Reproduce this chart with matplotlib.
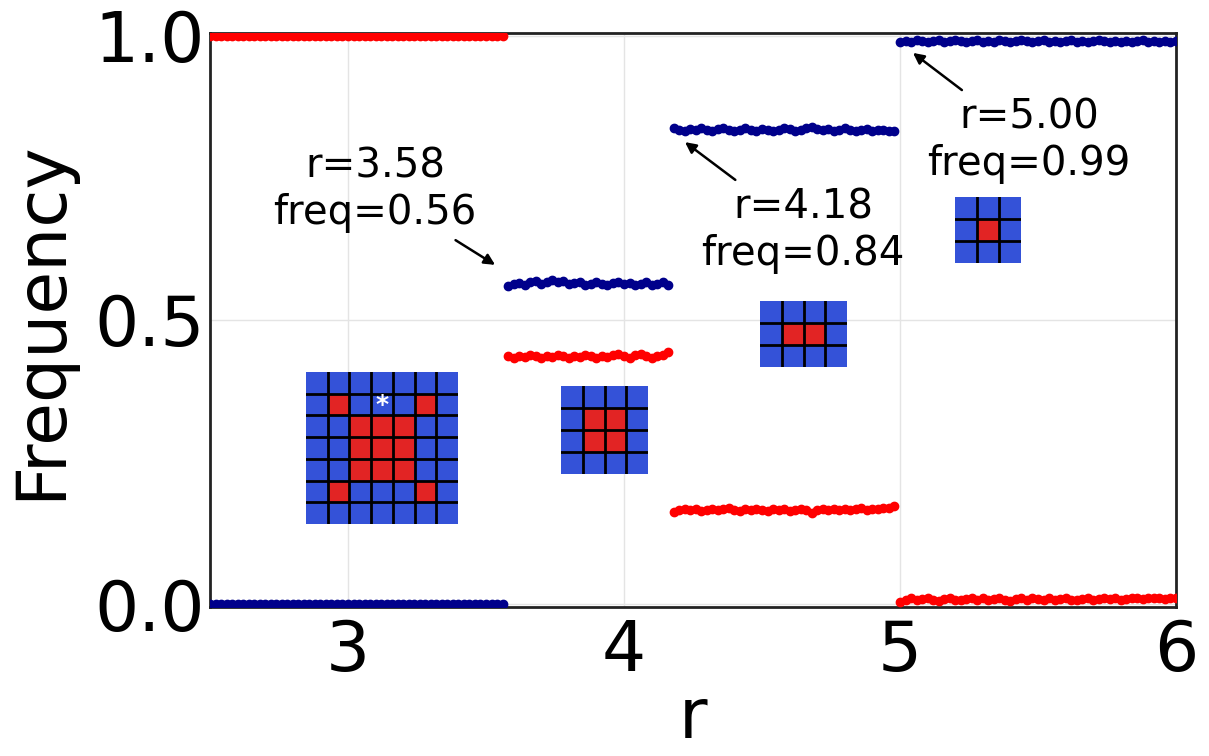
import numpy as np
import matplotlib
matplotlib.use("Agg")
import matplotlib.pyplot as plt
from matplotlib.colors import ListedColormap

# frequency of each strategy vs r, one block per plateau
n1 = 54
red1 = [1.0] * n1
blue1 = [0.0] * n1

blue2 = [0.560, 0.563, 0.565, 0.562, 0.566, 0.568, 0.564, 0.567, 0.570, 0.566,
         0.568, 0.563, 0.565, 0.567, 0.562, 0.564, 0.566, 0.563, 0.561, 0.565,
         0.567, 0.563, 0.565, 0.562, 0.564, 0.566, 0.561, 0.563, 0.567, 0.562]
red2 = [0.436, 0.434, 0.437, 0.435, 0.438, 0.436, 0.433, 0.437, 0.435, 0.439,
        0.436, 0.434, 0.437, 0.435, 0.438, 0.436, 0.433, 0.437, 0.435, 0.438,
        0.440, 0.436, 0.434, 0.438, 0.441, 0.437, 0.433, 0.437, 0.439, 0.443]

blue3 = [0.838, 0.835, 0.833, 0.836, 0.834, 0.837, 0.835, 0.832, 0.836, 0.838,
         0.835, 0.833, 0.834, 0.837, 0.835, 0.833, 0.836, 0.834, 0.832, 0.835,
         0.838, 0.836, 0.833, 0.835, 0.837, 0.839, 0.836, 0.834, 0.836, 0.833,
         0.835, 0.837, 0.834, 0.832, 0.835, 0.836, 0.833, 0.835, 0.834, 0.832,
         0.833]
red3 = [0.163, 0.166, 0.168, 0.165, 0.167, 0.164, 0.166, 0.168, 0.165, 0.167,
        0.169, 0.166, 0.164, 0.167, 0.165, 0.168, 0.166, 0.164, 0.167, 0.165,
        0.167, 0.164, 0.166, 0.168, 0.165, 0.161, 0.166, 0.168, 0.165, 0.167,
        0.166, 0.168, 0.165, 0.167, 0.169, 0.166, 0.168, 0.167, 0.169, 0.170,
        0.172]

blue4 = [0.990, 0.991, 0.990, 0.992, 0.991, 0.990, 0.991, 0.992, 0.990, 0.991,
         0.993, 0.991, 0.990, 0.991, 0.992, 0.990, 0.991, 0.990, 0.992, 0.991,
         0.990, 0.991, 0.993, 0.991, 0.990, 0.991, 0.992, 0.990, 0.991, 0.990,
         0.991, 0.992, 0.990, 0.991, 0.990, 0.991, 0.992, 0.991, 0.990, 0.991,
         0.990, 0.991, 0.990, 0.991, 0.992, 0.990, 0.991, 0.990, 0.991, 0.990,
         0.991]
red4 = [0.004, 0.008, 0.010, 0.007, 0.009, 0.011, 0.008, 0.006, 0.009, 0.010,
        0.008, 0.007, 0.009, 0.011, 0.008, 0.010, 0.007, 0.009, 0.011, 0.008,
        0.006, 0.009, 0.010, 0.008, 0.011, 0.009, 0.007, 0.010, 0.008, 0.009,
        0.011, 0.008, 0.007, 0.009, 0.010, 0.008, 0.009, 0.011, 0.009, 0.010,
        0.008, 0.009, 0.011, 0.010, 0.009, 0.010, 0.011, 0.010, 0.009, 0.010,
        0.010]

segments = [
    (2.50, 3.56, blue1, red1),
    (3.58, 4.16, blue2, red2),
    (4.18, 4.98, blue3, red3),
    (5.00, 6.00, blue4, red4),
]

# (r, freq, arrow x, arrow y, text x, text y)
notes = [
    (3.58, 0.56, 3.533, 0.597, 3.098, 0.729),
    (4.18, 0.84, 4.221, 0.813, 4.649, 0.657),
    (5.00, 0.99, 5.047, 0.970, 5.467, 0.815),
]

# lattice snapshots (1 = red, 0 = blue)
grid_a = [[0, 0, 0, 0, 0, 0, 0],
          [0, 1, 0, 0, 0, 1, 0],
          [0, 0, 1, 1, 1, 0, 0],
          [0, 0, 1, 1, 1, 0, 0],
          [0, 0, 1, 1, 1, 0, 0],
          [0, 1, 0, 0, 0, 1, 0],
          [0, 0, 0, 0, 0, 0, 0]]
grid_b = [[0, 0, 0, 0],
          [0, 1, 1, 0],
          [0, 1, 1, 0],
          [0, 0, 0, 0]]
grid_c = [[0, 0, 0, 0],
          [0, 1, 1, 0],
          [0, 0, 0, 0]]
grid_d = [[0, 0, 0],
          [0, 1, 0],
          [0, 0, 0]]

W, H = 1209, 756
fig = plt.figure(figsize=(W / 100, H / 100), dpi=100)
ax = fig.add_axes([210 / W, 1 - 607 / H, 966 / W, 574 / H])

for lo, hi, b, rd in segments:
    r = np.linspace(lo, hi, len(b))
    ax.plot(r, rd, '-o', color='red', ms=6, lw=2.5, zorder=3)
    ax.plot(r, b, '-o', color='#00008b', ms=6, lw=2.5, zorder=3)

ax.set_xlim(2.5, 6.0)
ax.set_ylim(-0.005, 1.005)
ax.set_xticks([3, 4, 5, 6])
ax.set_yticks([0.0, 0.5, 1.0])
ax.set_yticklabels(['0.0', '0.5', '1.0'])
ax.tick_params(length=0, labelsize=50, pad=4)
ax.tick_params(axis='x', pad=8)
ax.grid(True, color='#e4e4e4', lw=1)
ax.set_axisbelow(True)
for s in ax.spines.values():
    s.set_linewidth(2)
    s.set_color('#222222')
ax.set_xlabel('r', fontsize=50, labelpad=0)
ax.set_ylabel('Frequency', fontsize=50, labelpad=14)

for r0, f0, hx, hy, tx, ty in notes:
    ax.annotate('r=%.2f\nfreq=%.2f' % (r0, f0), xy=(hx, hy), xytext=(tx, ty),
                ha='center', va='center', multialignment='center', fontsize=29,
                arrowprops=dict(arrowstyle='-|>', color='black', lw=1.8,
                                mutation_scale=16, shrinkA=6, shrinkB=0))

cmap = ListedColormap(['#3452d8', '#e22424'])


def lattice(px0, py0, px1, py1, cells, star=None):
    a = fig.add_axes([px0 / W, 1 - py1 / H, (px1 - px0) / W, (py1 - py0) / H])
    cells = np.array(cells)
    nr, nc = cells.shape
    a.imshow(cells, cmap=cmap, vmin=0, vmax=1, aspect='auto',
             extent=(0, nc, nr, 0), interpolation='nearest')
    for i in range(1, nc):
        a.axvline(i, color='black', lw=2)
    for j in range(1, nr):
        a.axhline(j, color='black', lw=2)
    if star is not None:
        a.text(star[1] + 0.5, star[0] + 0.5, '*', color='white', fontsize=18,
               fontweight='bold', ha='center', va='center')
    a.set_xlim(0, nc)
    a.set_ylim(nr, 0)
    a.axis('off')


lattice(306, 372, 458, 524, grid_a, star=(1, 3))
lattice(561, 386, 648, 474, grid_b)
lattice(760, 301, 847, 367, grid_c)
lattice(955, 197, 1021, 263, grid_d)

fig.savefig('out.png', dpi=100)
